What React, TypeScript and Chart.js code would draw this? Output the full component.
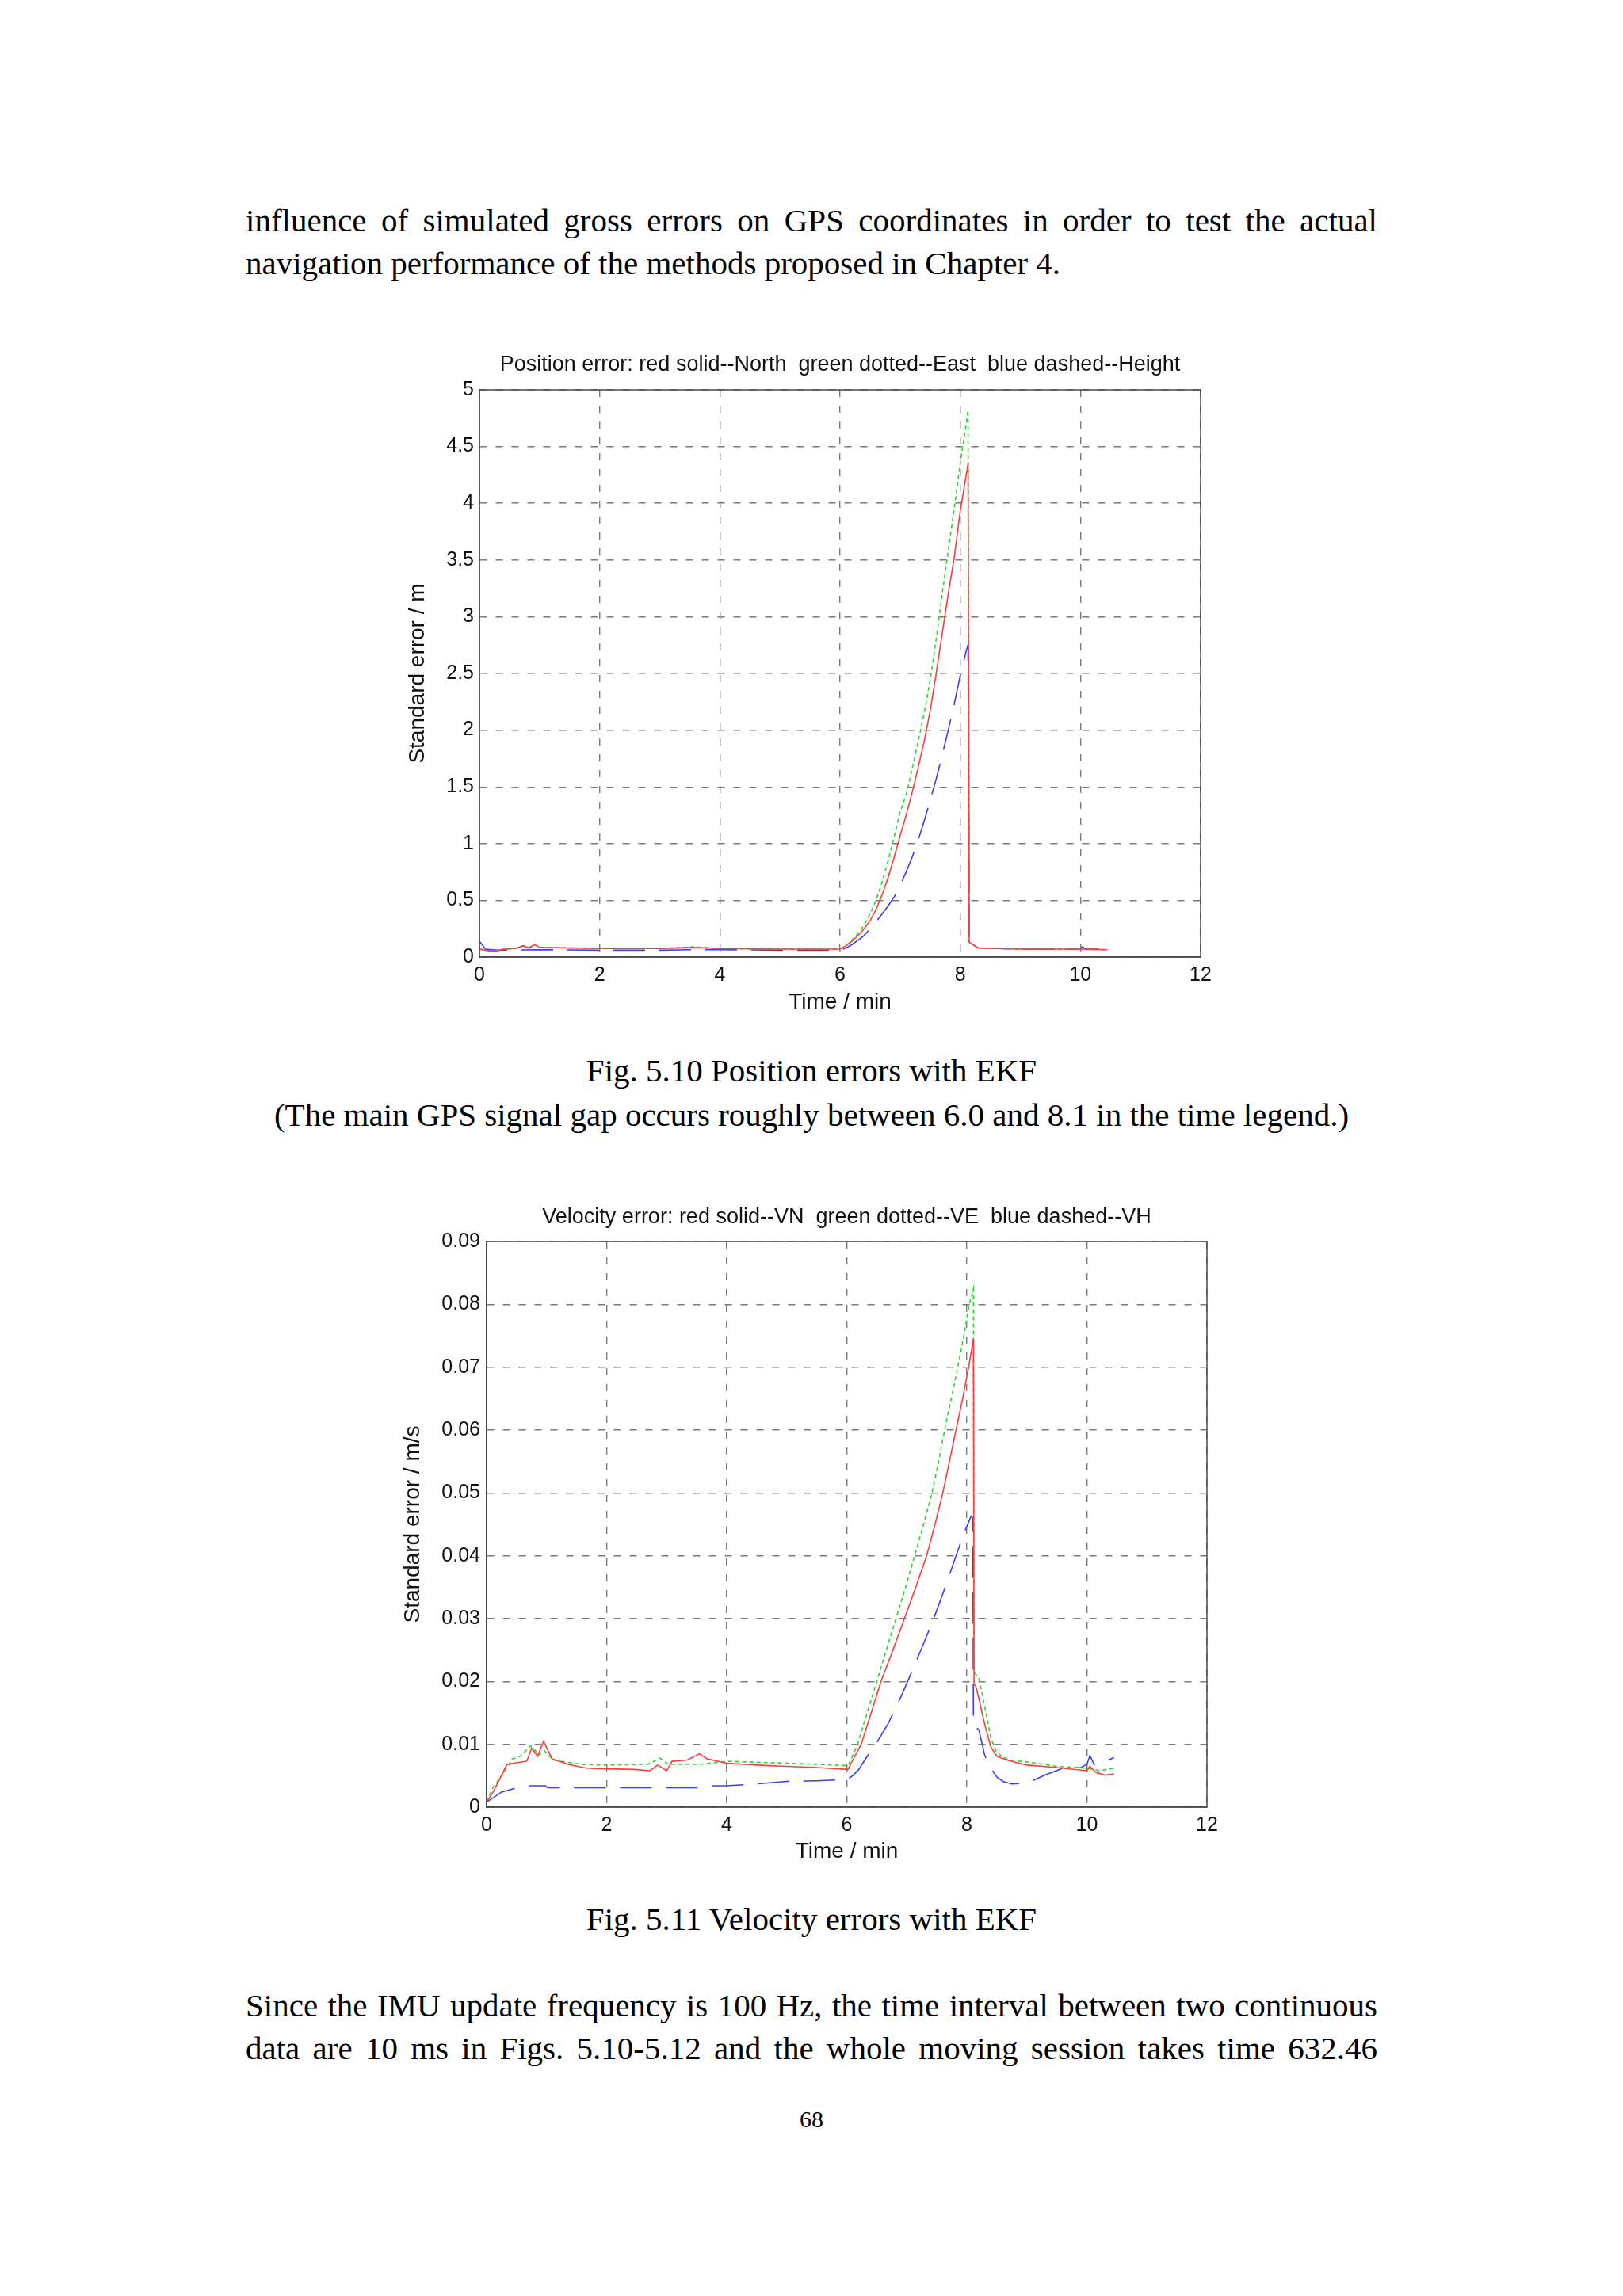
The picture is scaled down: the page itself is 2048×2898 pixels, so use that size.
import React, { useEffect, useRef } from 'react';
import { Chart, registerables } from 'chart.js';

Chart.register(...registerables);

// ---------- Fig 5.10 position errors (m) ----------
const posNorthT = [0, 0.1, 0.25, 0.4, 0.6, 0.73, 0.82, 0.92, 1.0, 1.5, 2, 3, 3.55, 4, 5, 6, 6.1, 6.2, 6.3, 6.4, 6.5, 6.6, 6.7, 6.8, 6.9, 7.0, 7.1, 7.2, 7.3, 7.4, 7.5, 7.6, 7.7, 7.8, 7.9, 8.0, 8.1, 8.13, 8.15, 8.3, 9, 10, 10.45];
const posNorthV = [0.07, 0.06, 0.05, 0.07, 0.075, 0.1, 0.08, 0.11, 0.085, 0.08, 0.075, 0.075, 0.085, 0.075, 0.07, 0.07, 0.1, 0.14, 0.19, 0.25, 0.32, 0.42, 0.55, 0.7, 0.88, 1.07, 1.25, 1.45, 1.67, 1.9, 2.17, 2.5, 2.85, 3.2, 3.52, 3.93, 4.25, 4.35, 0.13, 0.08, 0.07, 0.07, 0.065];

const posEastT = [0, 0.1, 0.25, 0.4, 0.6, 0.73, 0.82, 0.92, 1.0, 1.5, 2, 3, 3.55, 4, 5, 6, 6.1, 6.2, 6.3, 6.4, 6.5, 6.6, 6.7, 6.8, 6.9, 7.0, 7.1, 7.2, 7.3, 7.4, 7.5, 7.6, 7.7, 7.8, 7.9, 8.0, 8.1, 8.13, 8.15, 8.3, 9, 10, 10.45];
const posEastV = [0.07, 0.06, 0.05, 0.07, 0.075, 0.1, 0.08, 0.11, 0.085, 0.08, 0.075, 0.075, 0.09, 0.075, 0.07, 0.07, 0.1, 0.15, 0.21, 0.28, 0.38, 0.5, 0.66, 0.85, 1.06, 1.28, 1.43, 1.66, 1.9, 2.15, 2.44, 2.8, 3.2, 3.58, 3.95, 4.35, 4.7, 4.82, 0.13, 0.08, 0.07, 0.07, 0.065];

const posHeightT = [0, 0.1, 0.3, 1, 2, 3, 3.5, 4, 5, 6, 6.1, 6.2, 6.3, 6.4, 6.5, 6.6, 6.7, 6.8, 6.9, 7.0, 7.1, 7.2, 7.3, 7.4, 7.5, 7.6, 7.7, 7.8, 7.9, 8.0, 8.1, 8.13, 8.15, 8.3, 9, 10, 10.03, 10.1, 10.45];
const posHeightV = [0.14, 0.07, 0.06, 0.065, 0.06, 0.06, 0.065, 0.065, 0.06, 0.06, 0.08, 0.11, 0.15, 0.19, 0.25, 0.31, 0.38, 0.45, 0.53, 0.63, 0.75, 0.88, 1.03, 1.2, 1.38, 1.57, 1.78, 2.0, 2.23, 2.48, 2.7, 2.75, 0.15, 0.08, 0.07, 0.07, 0.09, 0.07, 0.07];

// ---------- Fig 5.11 velocity errors (m/s) ----------
const velNT = [0, 0.12, 0.34, 0.51, 0.67, 0.75, 0.85, 0.95, 1.09, 1.36, 1.66, 2.02, 2.46, 2.72, 2.85, 3.0, 3.09, 3.34, 3.55, 3.67, 4.0, 4.5, 5.0, 5.5, 6.02, 6.1, 6.24, 6.4, 6.57, 6.75, 6.96, 7.15, 7.33, 7.47, 7.6, 7.71, 7.82, 7.93, 8.03, 8.11, 8.12, 8.15, 8.2, 8.3, 8.4, 8.5, 8.7, 9.0, 9.5, 10.0, 10.05, 10.15, 10.3, 10.45];
const velNV = [0.0008, 0.0026, 0.0068, 0.0071, 0.0073, 0.0094, 0.0081, 0.0105, 0.0077, 0.0068, 0.0062, 0.0061, 0.006, 0.0058, 0.0067, 0.0058, 0.0073, 0.0075, 0.0085, 0.0077, 0.007, 0.0067, 0.0065, 0.0063, 0.006, 0.0075, 0.01, 0.0148, 0.02, 0.0245, 0.03, 0.035, 0.04, 0.045, 0.05, 0.055, 0.06, 0.065, 0.07, 0.0745, 0.0196, 0.0192, 0.0173, 0.0131, 0.0096, 0.0081, 0.0074, 0.0067, 0.0063, 0.0058, 0.0065, 0.0055, 0.0051, 0.0053];

const velET = [0, 0.1, 0.25, 0.43, 0.56, 0.74, 0.87, 0.96, 1.11, 1.57, 2.02, 2.68, 2.89, 3.03, 3.55, 3.72, 4.0, 5.0, 6.02, 6.1, 6.18, 6.34, 6.5, 6.66, 6.82, 6.98, 7.13, 7.28, 7.42, 7.53, 7.63, 7.74, 7.85, 7.95, 8.04, 8.11, 8.12, 8.2, 8.3, 8.4, 8.5, 8.7, 9.0, 9.5, 10.0, 10.2, 10.45];
const velEV = [0.0008, 0.003, 0.005, 0.0077, 0.0081, 0.0098, 0.0083, 0.009, 0.0075, 0.0068, 0.0067, 0.0068, 0.0078, 0.0068, 0.0068, 0.007, 0.0073, 0.007, 0.0066, 0.0082, 0.01, 0.015, 0.02, 0.025, 0.03, 0.035, 0.04, 0.045, 0.05, 0.055, 0.06, 0.065, 0.07, 0.075, 0.08, 0.0825, 0.0215, 0.0205, 0.016, 0.011, 0.0086, 0.0075, 0.0072, 0.0065, 0.0062, 0.0058, 0.0062];

const velHT = [0, 0.25, 0.51, 0.73, 0.98, 1.02, 1.37, 2.0, 3.0, 3.49, 3.72, 4.0, 4.5, 5.0, 5.5, 6.0, 6.1, 6.2, 6.3, 6.5, 6.69, 6.9, 7.1, 7.3, 7.46, 7.64, 7.82, 7.95, 8.07, 8.1, 8.11, 8.2, 8.3, 8.4, 8.5, 8.6, 8.75, 9.0, 9.3, 9.6, 9.9, 10.0, 10.05, 10.12, 10.2, 10.45];
const velHV = [0.0008, 0.0024, 0.0031, 0.0034, 0.0034, 0.0031, 0.0031, 0.0031, 0.0031, 0.0031, 0.0034, 0.0034, 0.0037, 0.0041, 0.0042, 0.0044, 0.005, 0.006, 0.0075, 0.0103, 0.0133, 0.0175, 0.0219, 0.0265, 0.0303, 0.035, 0.04, 0.0435, 0.0463, 0.046, 0.013, 0.0123, 0.0082, 0.0062, 0.0048, 0.0041, 0.0037, 0.0038, 0.0051, 0.0062, 0.0063, 0.0068, 0.0082, 0.0068, 0.0067, 0.0079];

// ---------- tick labels ----------
const xTickLabels = ['0', '2', '4', '6', '8', '10', '12'];
const posYTickLabels = ['0', '0.5', '1', '1.5', '2', '2.5', '3', '3.5', '4', '4.5', '5'];
const velYTickLabels = ['0', '0.01', '0.02', '0.03', '0.04', '0.05', '0.06', '0.07', '0.08', '0.09'];

// ---------- text ----------
const posTitle = 'Position error: red solid--North  green dotted--East  blue dashed--Height';
const velTitle = 'Velocity error: red solid--VN  green dotted--VE  blue dashed--VH';

const RED = 'rgb(255,60,60)';
const GREEN = 'rgb(40,215,40)';
const BLUE = 'rgb(60,60,255)';
const SANS = '"Liberation Sans", Arial, Helvetica, sans-serif';
const SERIF = '"Liberation Serif", "Times New Roman", serif';

const zip = (t: number[], v: number[]) => t.map((x, i) => ({ x, y: v[i] }));

const framePlugin = {
  id: 'frame',
  afterDraw(chart: any) {
    const { ctx, chartArea } = chart;
    const { left, top, right, bottom } = chartArea;
    ctx.save();
    ctx.strokeStyle = '#4a4a4a';
    ctx.lineWidth = 1.5;
    ctx.strokeRect(left, top, right - left, bottom - top);
    ctx.restore();
  },
};

interface Spec {
  title: string;
  yTitle: string;
  yMax: number;
  yStep: number;
  yLabels: string[];
  series: { t: number[]; v: number[]; color: string; dash: number[] }[];
  yAxisWidth: number;
  xAxisHeight: number;
  titlePadBottom: number;
  yTickPad: number;
}

function makeConfig(s: Spec): any {
  return {
    type: 'line',
    data: {
      datasets: s.series.map((sr) => ({
        data: zip(sr.t, sr.v),
        borderColor: sr.color,
        borderWidth: 1.6,
        borderDash: sr.dash,
        pointRadius: 0,
        tension: 0,
        fill: false,
      })),
    },
    options: {
      animation: false,
      responsive: false,
      devicePixelRatio: 1,
      layout: { padding: { left: 0, right: 30, top: 0, bottom: 0 } },
      plugins: {
        legend: { display: false },
        tooltip: { enabled: false },
        title: {
          display: true,
          fullSize: false,
          text: s.title,
          color: '#111',
          font: { family: SANS, size: 27, weight: 'normal', lineHeight: 1.2 },
          padding: { top: 0, bottom: s.titlePadBottom },
        },
      },
      scales: {
        x: {
          type: 'linear',
          min: 0,
          max: 12,
          afterFit: (sc: any) => {
            sc.height = s.xAxisHeight;
          },
          ticks: {
            stepSize: 2,
            autoSkip: false,
            maxRotation: 0,
            color: '#111',
            padding: 8,
            font: { family: SANS, size: 25 },
            callback: (_v: any, i: number) => xTickLabels[i],
          },
          grid: { color: '#7a7a7a', lineWidth: 1.4, drawTicks: false },
          border: { display: true, color: '#4a4a4a', width: 1.5, dash: [9, 11] },
          title: {
            display: true,
            text: 'Time / min',
            color: '#111',
            font: { family: SANS, size: 28, lineHeight: 1.2 },
            padding: { top: 0, bottom: 0 },
          },
        },
        y: {
          type: 'linear',
          min: 0,
          max: s.yMax,
          afterFit: (sc: any) => {
            sc.width = s.yAxisWidth;
          },
          ticks: {
            stepSize: s.yStep,
            autoSkip: false,
            color: '#111',
            padding: s.yTickPad,
            font: { family: SANS, size: 25 },
            callback: (_v: any, i: number) => s.yLabels[i],
          },
          grid: { color: '#7a7a7a', lineWidth: 1.4, drawTicks: false },
          border: { display: true, color: '#4a4a4a', width: 1.5, dash: [9, 11] },
          title: {
            display: true,
            text: s.yTitle,
            color: '#111',
            font: { family: SANS, size: 28, lineHeight: 1.2 },
            padding: { top: 0, bottom: 0 },
          },
        },
      },
    },
    plugins: [framePlugin],
  };
}

function ChartCanvas(props: { left: number; top: number; width: number; height: number; spec: Spec }) {
  const ref = useRef<HTMLCanvasElement | null>(null);
  useEffect(() => {
    if (!ref.current) return;
    const chart = new Chart(ref.current, makeConfig(props.spec));
    return () => chart.destroy();
  }, []);
  return (
    <canvas
      ref={ref}
      width={props.width}
      height={props.height}
      style={{ position: 'absolute', left: props.left, top: props.top, width: props.width, height: props.height }}
    />
  );
}

const lineStyle = (top: number, justify: boolean): React.CSSProperties => ({
  position: 'absolute',
  left: 310,
  top,
  width: 1428,
  fontFamily: SERIF,
  fontSize: 41,
  lineHeight: '54px',
  color: '#000',
  textAlign: justify ? 'justify' : 'left',
  textAlignLast: justify ? 'justify' : 'left',
  whiteSpace: 'nowrap',
});

const centerStyle = (top: number, size = 41, lh = 54): React.CSSProperties => ({
  position: 'absolute',
  left: 0,
  top,
  width: 2048,
  textAlign: 'center',
  fontFamily: SERIF,
  fontSize: size,
  lineHeight: `${lh}px`,
  color: '#000',
  whiteSpace: 'nowrap',
});

export default function App() {
  // chart 1: plot area x 605-1515, y 492-1208
  const posSpec: Spec = {
    title: posTitle,
    yTitle: 'Standard error / m',
    yMax: 5,
    yStep: 0.5,
    yLabels: posYTickLabels,
    series: [
      { t: posNorthT, v: posNorthV, color: RED, dash: [] },
      { t: posEastT, v: posEastV, color: GREEN, dash: [5, 4] },
      { t: posHeightT, v: posHeightV, color: BLUE, dash: [40, 18] },
    ],
    yAxisWidth: 95,
    xAxisHeight: 74,
    titlePadBottom: 15.6,
    yTickPad: 7,
  };
  // chart 2: plot area x 614-1523, y 1567-2281
  const velSpec: Spec = {
    title: velTitle,
    yTitle: 'Standard error / m/s',
    yMax: 0.09,
    yStep: 0.01,
    yLabels: velYTickLabels,
    series: [
      { t: velNT, v: velNV, color: RED, dash: [] },
      { t: velET, v: velEV, color: GREEN, dash: [5, 4] },
      { t: velHT, v: velHV, color: BLUE, dash: [40, 18] },
    ],
    yAxisWidth: 110,
    xAxisHeight: 73,
    titlePadBottom: 14.6,
    yTickPad: 8,
  };

  return (
    <div style={{ position: 'absolute', left: 0, top: 0, width: 2048, height: 2898, background: '#fff', overflow: 'hidden' }}>
      <div style={lineStyle(251, true)}>
        influence of simulated gross errors on GPS coordinates in order to test the actual
      </div>
      <div style={lineStyle(305, false)}>navigation performance of the methods proposed in Chapter 4.</div>

      <ChartCanvas left={510} top={444} width={1515 + 30 - 510} height={1282 - 444} spec={posSpec} />

      <div style={centerStyle(1324)}>Fig. 5.10 Position errors with EKF</div>
      <div style={centerStyle(1380)}>
        (The main GPS signal gap occurs roughly between 6.0 and 8.1 in the time legend.)
      </div>

      <ChartCanvas left={504} top={1520} width={1523 + 30 - 504} height={2354 - 1520} spec={velSpec} />

      <div style={centerStyle(2395)}>Fig. 5.11 Velocity errors with EKF</div>

      <div style={lineStyle(2504, true)}>
        Since the IMU update frequency is 100 Hz, the time interval between two continuous
      </div>
      <div style={lineStyle(2558, true)}>
        data are 10 ms in Figs. 5.10-5.12 and the whole moving session takes time 632.46
      </div>

      <div style={centerStyle(2655, 30, 40)}>68</div>
    </div>
  );
}
